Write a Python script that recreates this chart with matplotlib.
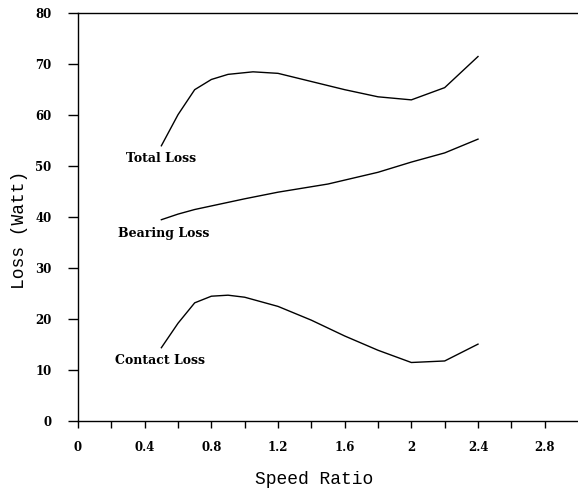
import matplotlib.pyplot as plt

# speed ratio samples
x_total = [0.5, 0.6, 0.7, 0.8, 0.9, 1.05, 1.2, 1.4, 1.6, 1.8, 2.0, 2.2, 2.4]
total_loss = [54.0, 60.1, 65.0, 67.0, 68.0, 68.5, 68.2, 66.6, 65.0, 63.6, 63.0, 65.4, 71.5]

x_bearing = [0.5, 0.6, 0.7, 0.8, 1.0, 1.2, 1.5, 1.8, 2.0, 2.2, 2.4]
bearing_loss = [39.5, 40.6, 41.5, 42.2, 43.6, 44.9, 46.5, 48.8, 50.8, 52.6, 55.3]

x_contact = [0.5, 0.6, 0.7, 0.8, 0.9, 1.0, 1.2, 1.4, 1.6, 1.8, 2.0, 2.2, 2.4]
contact_loss = [14.4, 19.2, 23.2, 24.5, 24.7, 24.3, 22.5, 19.8, 16.7, 13.9, 11.5, 11.8, 15.1]

xticks = [0, 0.4, 0.8, 1.2, 1.6, 2, 2.4, 2.8]
xticklabels = ['0', '0.4', '0.8', '1.2', '1.6', '2', '2.4', '2.8']
yticks = [0, 10, 20, 30, 40, 50, 60, 70, 80]

tick_font = dict(family='DejaVu Serif', weight='bold', size=8.5)
label_font = dict(family='DejaVu Serif', weight='bold', size=9)

fig = plt.figure(figsize=[5.78, 4.88], dpi=100)
ax = fig.add_axes([0.135, 0.137, 0.865, 0.836])

ax.plot(x_total, total_loss, color='black', lw=1)
ax.plot(x_bearing, bearing_loss, color='black', lw=1)
ax.plot(x_contact, contact_loss, color='black', lw=1)

ax.text(0.29, 51.5, 'Total Loss', va='center', ha='left', **label_font)
ax.text(0.24, 36.7, 'Bearing Loss', va='center', ha='left', **label_font)
ax.text(0.22, 11.8, 'Contact Loss', va='center', ha='left', **label_font)

ax.set_xlim(0, 3.0)
ax.set_ylim(0, 80)
ax.set_xticks(xticks)
ax.set_xticklabels(xticklabels, fontdict=tick_font)
ax.set_xticks([0.2, 0.6, 1.0, 1.4, 1.8, 2.2, 2.6], minor=True)
ax.set_yticks(yticks)
ax.set_yticklabels([str(v) for v in yticks], fontdict=tick_font)
ax.tick_params(axis='x', which='both', direction='out', length=5, width=1, pad=9)
ax.tick_params(axis='y', direction='out', length=7, width=1, pad=12)

ax.spines['right'].set_visible(False)
for s in ['left', 'bottom', 'top']:
    ax.spines[s].set_linewidth(1)

ax.set_xlabel('Speed Ratio', family='Liberation Mono', size=13)
ax.xaxis.set_label_coords(0.472, -0.123)
ax.set_ylabel('Loss (Watt)', family='Liberation Mono', size=13)
ax.yaxis.set_label_coords(-0.1, 0.47)

fig.savefig('out.png', dpi=100)
